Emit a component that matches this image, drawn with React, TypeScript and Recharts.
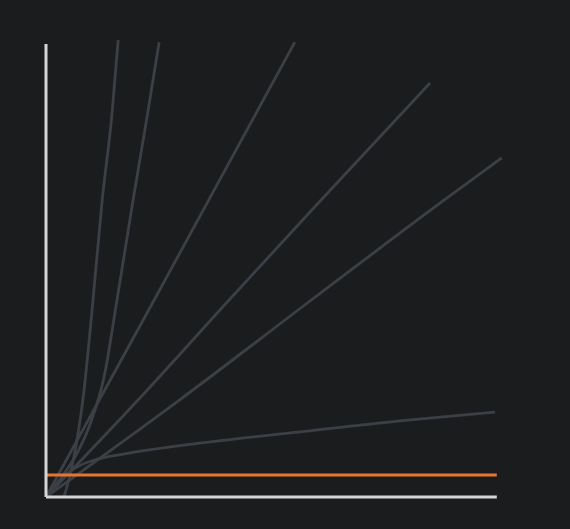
import React from "react";
import { LineChart, Line, XAxis, YAxis, ReferenceLine } from "recharts";

// Growth curves (x and y both on a 0-100 scale)
const factorial = [
  { x: 3.9, y: 0 },
  { x: 5.5, y: 6 },
  { x: 7.0, y: 14 },
  { x: 8.0, y: 21 },
  { x: 10.2, y: 42.7 },
  { x: 12.2, y: 64.5 },
  { x: 14.3, y: 83.0 },
  { x: 15.7, y: 99.6 },
];
const exponential = [
  { x: 0.2, y: 0.2 },
  { x: 3.5, y: 4.5 },
  { x: 7.0, y: 10 },
  { x: 10.0, y: 17 },
  { x: 12.6, y: 26 },
  { x: 15.4, y: 42.7 },
  { x: 18.9, y: 64.5 },
  { x: 22.0, y: 83.0 },
  { x: 24.6, y: 99.1 },
];
const quadratic = [
  { x: 0, y: 0 },
  { x: 23.4, y: 42.7 },
  { x: 54.1, y: 99.1 },
];
const linearithmic = [
  { x: 0, y: 0 },
  { x: 19.8, y: 20.9 },
  { x: 39.6, y: 42.7 },
  { x: 59.6, y: 64.5 },
  { x: 83.5, y: 90.2 },
];
const linear = [
  { x: 0, y: 0 },
  { x: 28.7, y: 20.9 },
  { x: 57.4, y: 42.7 },
  { x: 86.3, y: 64.5 },
  { x: 99.1, y: 73.9 },
];
const logarithmic = [
  { x: 0.4, y: 0.4 },
  { x: 3.0, y: 3.7 },
  { x: 6.3, y: 6.3 },
  { x: 10.7, y: 8.1 },
  { x: 18.3, y: 9.6 },
  { x: 35.7, y: 12.0 },
  { x: 55.2, y: 14.2 },
  { x: 76.9, y: 16.6 },
  { x: 97.6, y: 18.5 },
];
const constant = [
  { x: 0, y: 4.8 },
  { x: 98, y: 4.8 },
];

const grayCurves = [factorial, exponential, quadratic, linearithmic, linear, logarithmic];

export default function App() {
  return (
    <div
      style={{
        position: "fixed",
        left: 0,
        top: 0,
        width: 570,
        height: 529,
        background: "#1b1c1e",
      }}
    >
      <LineChart width={570} height={529} margin={{ top: 38, right: 64, bottom: 32, left: 46 }}>
        <XAxis type="number" dataKey="x" domain={[0, 100]} hide allowDataOverflow />
        <YAxis type="number" dataKey="y" domain={[0, 100]} hide allowDataOverflow />
        {grayCurves.map((d, i) => (
          <Line
            key={i}
            data={d}
            dataKey="y"
            type="monotone"
            stroke="#3b4046"
            strokeWidth={2.8}
            dot={false}
            isAnimationActive={false}
          />
        ))}
        <Line
          data={constant}
          dataKey="y"
          type="linear"
          stroke="#e8742f"
          strokeWidth={3}
          dot={false}
          isAnimationActive={false}
        />
        <ReferenceLine
          segment={[{ x: 0, y: 0 }, { x: 0, y: 98.7 }]}
          stroke="#d6d6d6"
          strokeWidth={3}
          ifOverflow="visible"
        />
        <ReferenceLine
          segment={[{ x: 0, y: 0 }, { x: 98, y: 0 }]}
          stroke="#d6d6d6"
          strokeWidth={3}
          ifOverflow="visible"
        />
      </LineChart>
    </div>
  );
}
